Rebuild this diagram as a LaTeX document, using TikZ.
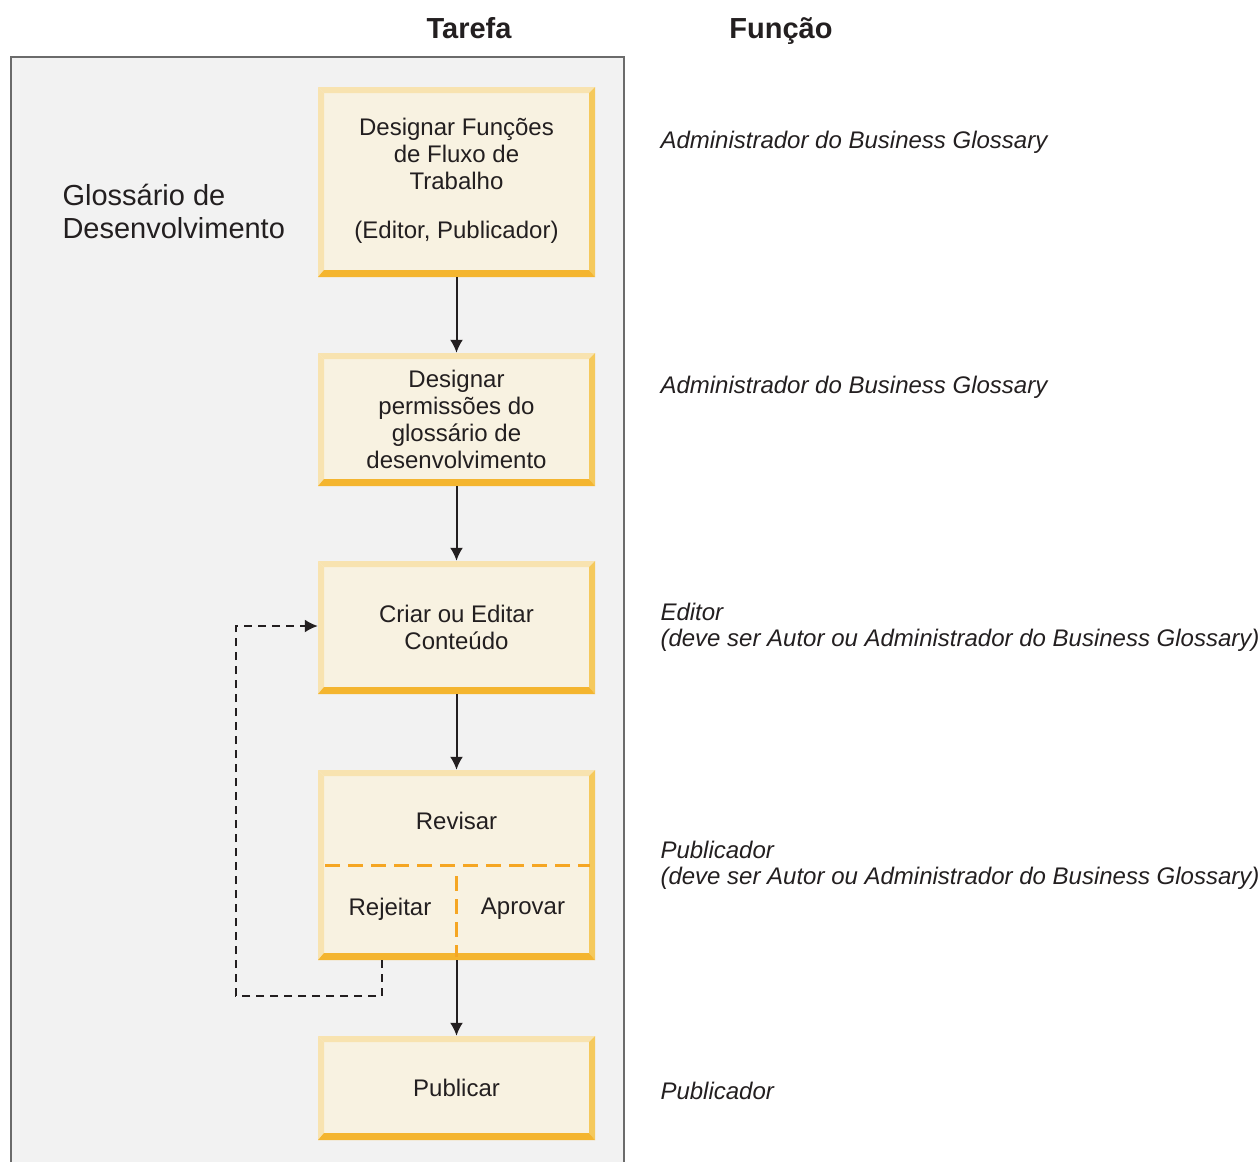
\documentclass[tikz,border=0pt]{standalone}
\usepackage{fontspec}
\setmainfont{Liberation Sans}
\usetikzlibrary{arrows.meta}

\definecolor{panelgray}{HTML}{F2F2F2}
\definecolor{panelline}{HTML}{6B6B6B}
\definecolor{boxfill}{HTML}{F8F2E1}
\definecolor{bevlight}{HTML}{F8E3B0}
\definecolor{bevright}{HTML}{F5C95C}
\definecolor{bevbottom}{HTML}{F4B52F}
\definecolor{dashorange}{HTML}{F5A623}
\definecolor{inktext}{HTML}{231F20}

\tikzset{
  task/.style={fill=boxfill, minimum width=277pt, inner sep=0pt, align=center,
    text=inktext, font=\fontsize{24}{27}\selectfont,
    path picture={
      \coordinate (bnw) at (path picture bounding box.north west);
      \coordinate (bne) at (path picture bounding box.north east);
      \coordinate (bsw) at (path picture bounding box.south west);
      \coordinate (bse) at (path picture bounding box.south east);
      \fill[bevlight] (bnw) -- (bne) -- ([shift={(-6pt,-6pt)}]bne) -- ([shift={(6pt,-6pt)}]bnw) -- cycle;
      \fill[bevlight] (bnw) -- ([shift={(6pt,-6pt)}]bnw) -- ([shift={(6pt,7pt)}]bsw) -- (bsw) -- cycle;
      \fill[bevright] (bne) -- (bse) -- ([shift={(-6pt,7pt)}]bse) -- ([shift={(-6pt,-6pt)}]bne) -- cycle;
      \fill[bevbottom] (bsw) -- (bse) -- ([shift={(-6pt,7pt)}]bse) -- ([shift={(6pt,7pt)}]bsw) -- cycle;
    }},
  tasktext/.style={text=inktext, font=\fontsize{24}{27}\selectfont, align=center},
  role/.style={text=inktext, anchor=west, align=left, font=\fontsize{24}{26}\selectfont\itshape},
  head/.style={text=inktext, anchor=base, font=\fontsize{29}{30}\selectfont\bfseries},
  flow/.style={->, line width=2pt, draw=inktext},
  back/.style={->, line width=2pt, draw=inktext, dash pattern=on 8pt off 6pt},
  split/.style={line width=3pt, draw=dashorange, dash pattern=on 15pt off 8pt}
}

\begin{document}
\begin{tikzpicture}[x=1pt,y=-1pt,>={Latex[length=13pt,width=13pt]}]
  \useasboundingbox (0,0) rectangle (1258,1162);
  % panel
  \fill[panelgray] (11,57) rectangle (624,1162);
  \draw[line width=2.5pt, panelline] (11,1162) -- (11,57) -- (624,57) -- (624,1162);

  % headings
  \node[head] (tarefa) at (469,38) {Tarefa};
  \node[head] (funcao) at (781,38) {Função};
  \node[text=inktext, anchor=west, align=left, font=\fontsize{29}{33}\selectfont] (glos) at (59,211)
    {Glossário de\\Desenvolvimento};

  % tasks
  \node[task, minimum height=190pt] (designar) at (456.5,182)
    {Designar Funções\\de Fluxo de\\Trabalho\\[22pt](Editor, Publicador)\\[-20pt]\mbox{}};
  \node[task, minimum height=133pt] (permissoes) at (456.5,419.5)
    {Designar\\permissões do\\glossário de\\desenvolvimento};
  \node[task, minimum height=133pt] (criar) at (456.5,627.5)
    {Criar ou Editar\\Conteúdo};
  \node[task, minimum height=190pt] (revisar) at (456.5,865) {};
  \node[task, minimum height=104pt] (publicar) at (456.5,1088) {Publicar};

  \node[tasktext] (revt) at (456.5,821) {Revisar};
  \node[tasktext] (rejeitar) at (390,909) {Rejeitar};
  \node[tasktext] (aprovar) at (523,909) {Aprovar};
  \draw[split] (325,865) -- (590,865);
  \draw[split] (456.5,876) -- (456.5,957);

  % connectors
  \draw[flow] (designar) -- (permissoes);
  \draw[flow] (permissoes) -- (criar);
  \draw[flow] (criar) -- (revisar);
  \draw[flow] (revisar) -- (publicar);
  \coordinate (rejbase) at (382,960);
  \draw[back] (rejbase) -- (382,996) -- (236,996) -- (236,626) -- (criar.west |- 0,626);

  % roles
  \node[role] (r1) at (657,142) {Administrador do Business Glossary};
  \node[role] (r2) at (657,387) {Administrador do Business Glossary};
  \node[role] (r3) at (657,627) {Editor\\(deve ser Autor ou Administrador do Business Glossary)};
  \node[role] (r4) at (657,865) {Publicador\\(deve ser Autor ou Administrador do Business Glossary)};
  \node[role] (r5) at (657,1091) {Publicador};
\end{tikzpicture}
\end{document}
